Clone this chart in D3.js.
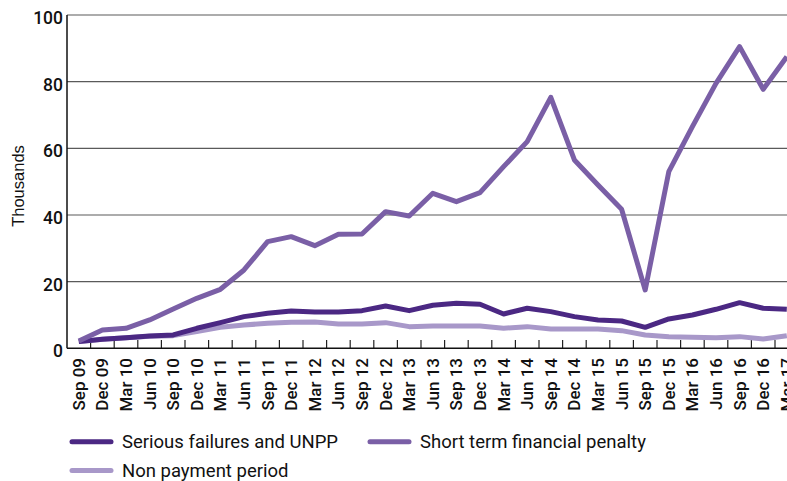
<!DOCTYPE html>
<html>
<head>
<meta charset="utf-8">
<script src="https://cdn.jsdelivr.net/npm/d3@7"></script>
<style>
  body { margin: 0; background: #fff; }
  svg { display: block; font-family: "Liberation Sans", Arial, sans-serif; }
</style>
</head>
<body>
<div id="container"></div>
<script>
// quarters on the x axis
var quarters = ["Sep 09","Dec 09","Mar 10","Jun 10","Sep 10","Dec 10","Mar 11","Jun 11",
  "Sep 11","Dec 11","Mar 12","Jun 12","Sep 12","Dec 12","Mar 13","Jun 13","Sep 13","Dec 13",
  "Mar 14","Jun 14","Sep 14","Dec 14","Mar 15","Jun 15","Sep 15","Dec 15","Mar 16","Jun 16",
  "Sep 16","Dec 16","Mar 17"];

// thousands
var seriousFailures = [2.0,2.7,3.2,3.7,4.0,6.0,7.7,9.5,10.5,11.2,10.9,10.9,11.3,12.7,11.3,12.9,
  13.5,13.2,10.3,12.0,11.0,9.5,8.5,8.2,6.3,8.8,10.0,11.7,13.7,12.0,11.7];
var shortTermPenalty = [2.2,5.5,6.0,8.5,11.8,15.0,17.7,23.5,32.0,33.5,30.8,34.2,34.3,41.0,39.7,46.5,
  44.0,46.7,54.5,62.0,75.3,56.5,49.0,41.7,17.5,53.0,66.5,79.5,90.5,77.7,87.5];
var nonPayment = [2.0,2.7,3.2,3.6,3.8,5.0,6.3,7.0,7.5,7.8,7.9,7.3,7.3,7.7,6.5,6.7,
  6.7,6.7,6.0,6.5,5.8,5.8,5.8,5.3,4.0,3.5,3.3,3.2,3.5,2.8,3.8];

var yTicks = [0, 20, 40, 60, 80, 100];

var w = 787, h = 481;

var svg = d3.select("#container")
  .append("svg")
  .attr("width", w)
  .attr("height", h);

var x = d3.scaleBand()
  .domain(quarters)
  .range([67, 67 + 31 * 23.6])
  .padding(0);

var y = d3.scaleLinear()
  .domain([0, 100])
  .range([348.3, 15]);

//gridlines
svg.append("g")
  .selectAll("line")
  .data(yTicks.filter(function(d) { return d > 0; }))
  .enter()
  .append("line")
  .attr("x1", 67)
  .attr("x2", w)
  .attr("y1", function(d) { return y(d); })
  .attr("y2", function(d) { return y(d); })
  .attr("stroke", "#5a5a5a")
  .attr("stroke-width", 1.2);

//y labels
svg.append("g")
  .selectAll("text")
  .data(yTicks)
  .enter()
  .append("text")
  .text(function(d) { return d; })
  .attr("x", 63)
  .attr("y", function(d) { return y(d) + 9; })
  .attr("text-anchor", "end")
  .attr("font-family", "Roboto, sans-serif")
  .attr("font-size", "17.5px")
  .attr("font-weight", 500)
  .attr("fill", "#111");

svg.append("text")
  .text("Thousands")
  .attr("transform", "translate(24,186) rotate(-90)")
  .attr("text-anchor", "middle")
  .attr("font-size", "16.5px")
  .attr("fill", "#111");

//ticks between quarters
var bounds = quarters.map(function(d) { return x(d); });
svg.append("g")
  .selectAll("line")
  .data(bounds.slice(1))
  .enter()
  .append("line")
  .attr("x1", function(d) { return d; })
  .attr("x2", function(d) { return d; })
  .attr("y1", 340)
  .attr("y2", 348.3)
  .attr("stroke", "#222")
  .attr("stroke-width", 1.2);

//x labels
svg.append("g")
  .selectAll("text")
  .data(quarters)
  .enter()
  .append("text")
  .text(function(d) { return d; })
  .attr("transform", function(d) {
    return "translate(" + (x(d) + x.bandwidth() / 2 + 6) + ",358) rotate(-90)";
  })
  .attr("text-anchor", "end")
  .attr("font-family", "Roboto, sans-serif")
  .attr("font-size", "17px")
  .attr("font-weight", 500)
  .attr("fill", "#111");

//lines
var series = [
  { name: "Non payment period", values: nonPayment, color: "#a898c9" },
  { name: "Serious failures and UNPP", values: seriousFailures, color: "#4b2883" },
  { name: "Short term financial penalty", values: shortTermPenalty, color: "#7a5fa6" }
];

var line = d3.line()
  .x(function(d, i) { return x(quarters[i]) + x.bandwidth() / 2; })
  .y(function(d) { return y(d); });

svg.append("g")
  .selectAll("path")
  .data(series)
  .enter()
  .append("path")
  .attr("d", function(d) { return line(d.values); })
  .attr("fill", "none")
  .attr("stroke", function(d) { return d.color; })
  .attr("stroke-width", 5)
  .attr("stroke-linejoin", "round");

//axes
svg.append("line")
  .attr("x1", 67).attr("x2", 67)
  .attr("y1", 15).attr("y2", 348.3)
  .attr("stroke", "#111").attr("stroke-width", 1.5);
svg.append("line")
  .attr("x1", 67).attr("x2", w)
  .attr("y1", 348.3).attr("y2", 348.3)
  .attr("stroke", "#111").attr("stroke-width", 1.5);

//legend
var legendItems = [
  { s: series[1], lx: 72, ly: 441.7 },
  { s: series[2], lx: 370, ly: 441.7 },
  { s: series[0], lx: 72, ly: 470.5 }
];
var leg = svg.append("g")
  .selectAll("g")
  .data(legendItems)
  .enter()
  .append("g");
leg.append("line")
  .attr("x1", function(d) { return d.lx; })
  .attr("x2", function(d) { return d.lx + 39; })
  .attr("y1", function(d) { return d.ly; })
  .attr("y2", function(d) { return d.ly; })
  .attr("stroke", function(d) { return d.s.color; })
  .attr("stroke-width", 5)
  .attr("stroke-linecap", "round");
leg.append("text")
  .text(function(d) { return d.s.name; })
  .attr("x", function(d) { return d.lx + 50; })
  .attr("y", function(d) { return d.ly + 6; })
  .attr("font-family", "Roboto, sans-serif")
  .attr("font-size", "18.5px")
  .attr("fill", "#111");
</script>
</body>
</html>
